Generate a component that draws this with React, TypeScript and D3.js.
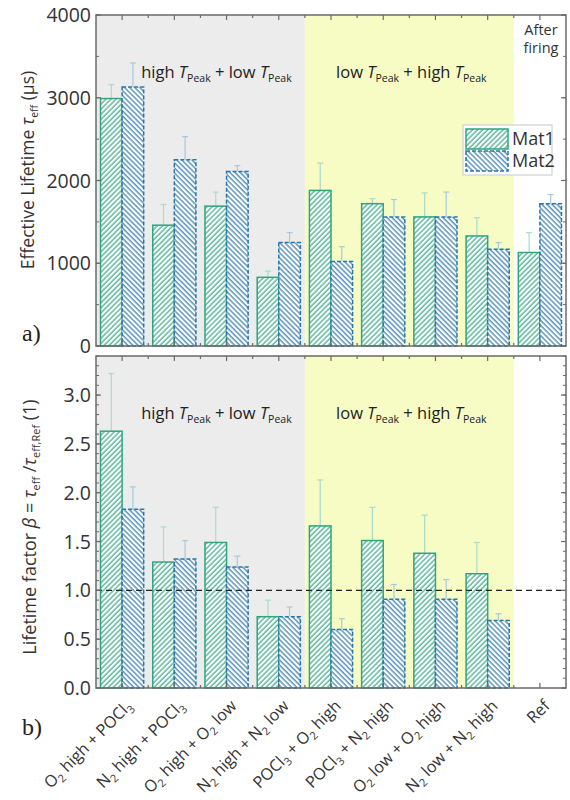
import React from "react";
import * as d3 from "d3";

const categories = [
  "O_2 high + POCl_3",
  "N_2 high + POCl_3",
  "O_2 high + O_2 low",
  "N_2 high + N_2 low",
  "POCl_3 + O_2 high",
  "POCl_3 + N_2 high",
  "O_2 low + O_2 high",
  "N_2 low + N_2 high",
  "Ref",
];
const seriesNames = ["Mat1", "Mat2"];

// Panel a) effective lifetime (µs)
const mat1Tau = [2990, 1460, 1690, 830, 1880, 1720, 1560, 1330, 1130];
const mat1TauErr = [170, 250, 170, 75, 330, 60, 290, 220, 240];
const mat2Tau = [3130, 2250, 2110, 1250, 1020, 1560, 1560, 1170, 1720];
const mat2TauErr = [290, 280, 70, 120, 180, 210, 300, 80, 110];

// Panel b) lifetime factor
const mat1Beta = [2.63, 1.29, 1.49, 0.73, 1.66, 1.51, 1.38, 1.17, null];
const mat1BetaErr = [0.59, 0.36, 0.36, 0.17, 0.47, 0.34, 0.39, 0.32, null];
const mat2Beta = [1.83, 1.32, 1.24, 0.73, 0.6, 0.91, 0.91, 0.69, null];
const mat2BetaErr = [0.23, 0.19, 0.11, 0.1, 0.11, 0.15, 0.2, 0.07, null];

const tauTicks = [0, 1000, 2000, 3000, 4000];
const betaTicks = [0, 0.5, 1.0, 1.5, 2.0, 2.5, 3.0];

const FONT = "'Open Sans', 'Noto Sans', sans-serif";
const C1 = "#2ea57f";
const C2 = "#2b76a9";
const E1 = "#a9dcc8";
const E2 = "#a6c9df";
const FRAME = "#6a6a6a";
const GRAY_BG = "#ececec";
const YELLOW_BG = "#f6fcc3";

const LEFT = 96;
const RIGHT = 566;

type Seg = { t: string; sub: boolean };
function parseSub(s: string): Seg[] {
  const out: Seg[] = [];
  const re = /_(\S)/g;
  let last = 0;
  let m: RegExpExecArray | null;
  while ((m = re.exec(s))) {
    if (m.index > last) out.push({ t: s.slice(last, m.index), sub: false });
    out.push({ t: m[1], sub: true });
    last = m.index + m[0].length;
  }
  if (last < s.length) out.push({ t: s.slice(last), sub: false });
  return out;
}

function RegionLabel({ x, y, first, second }: { x: number; y: number; first: string; second: string }) {
  return (
    <text x={x} y={y} textAnchor="middle" fontFamily={FONT} fontSize={16.5} fill="#222">
      <tspan>{first} </tspan>
      <tspan fontStyle="italic">T</tspan>
      <tspan fontSize={10.5} baselineShift="-4">Peak</tspan>
      <tspan> + {second} </tspan>
      <tspan fontStyle="italic">T</tspan>
      <tspan fontSize={10.5} baselineShift="-4">Peak</tspan>
    </text>
  );
}

export default function App() {
  const x = d3.scaleBand<number>().domain(d3.range(categories.length)).range([LEFT, RIGHT]).padding(0);
  const inner = d3.scaleBand<number>().domain([0, 1]).range([0, x.bandwidth()]).paddingInner(0).paddingOuter(0.21);
  const bw = inner.bandwidth();

  const panels = [
    {
      top: 15,
      bottom: 346,
      y: d3.scaleLinear().domain([0, 4000]).range([346, 15]),
      ticks: tauTicks,
      minor: d3.range(0, 4001, 500),
      fmt: (v: number) => d3.format("d")(v),
      s1: mat1Tau,
      e1: mat1TauErr,
      s2: mat2Tau,
      e2: mat2TauErr,
      showBottomLabels: false,
    },
    {
      top: 356,
      bottom: 688,
      y: d3.scaleLinear().domain([0, 3.4]).range([688, 356]),
      ticks: betaTicks,
      minor: d3.range(0, 34.01, 1).map((v) => v / 10),
      fmt: (v: number) => d3.format(".1f")(v),
      s1: mat1Beta,
      e1: mat1BetaErr,
      s2: mat2Beta,
      e2: mat2BetaErr,
      showBottomLabels: true,
    },
  ];

  const grayEnd = x(4)!;
  const yellowEnd = x(8)!;

  return (
    <svg width={570} height={800} style={{ position: "absolute", left: 0, top: 0, background: "#fff" }}>
      <defs>
        <pattern id="h1" patternUnits="userSpaceOnUse" width={3.6} height={3.6} patternTransform="rotate(45)">
          <rect width={3.6} height={3.6} fill="#fff" />
          <line x1={1} y1={0} x2={1} y2={3.6} stroke={C1} strokeWidth={1.15} />
        </pattern>
        <pattern id="h2" patternUnits="userSpaceOnUse" width={3.6} height={3.6} patternTransform="rotate(-45)">
          <rect width={3.6} height={3.6} fill="#fff" />
          <line x1={1} y1={0} x2={1} y2={3.6} stroke={C2} strokeWidth={1.15} />
        </pattern>
      </defs>

      {panels.map((p, pi) => {
        const y = p.y;
        const bars = [
          { vals: p.s1, errs: p.e1, fill: "url(#h1)", stroke: C1, dash: undefined, ecol: E1, idx: 0 },
          { vals: p.s2, errs: p.e2, fill: "url(#h2)", stroke: C2, dash: "4,2", ecol: E2, idx: 1 },
        ];
        return (
          <g key={pi}>
            <rect x={LEFT} y={p.top} width={grayEnd - LEFT} height={p.bottom - p.top} fill={GRAY_BG} />
            <rect x={grayEnd} y={p.top} width={yellowEnd - grayEnd} height={p.bottom - p.top} fill={YELLOW_BG} />

            {/* region labels */}
            <RegionLabel x={(LEFT + grayEnd) / 2 + 16} y={p.top + (pi === 0 ? 63 : 63)} first="high" second="low" />
            <RegionLabel x={(grayEnd + yellowEnd) / 2 + 2} y={p.top + (pi === 0 ? 63 : 63)} first="low" second="high" />

            {bars.map((b) =>
              b.vals.map((v, i) => {
                if (v == null) return null;
                const bx = x(i)! + inner(b.idx)!;
                const cx = bx + bw / 2;
                const e = b.errs[i] as number;
                return (
                  <g key={`${b.idx}-${i}`}>
                    <line x1={cx} x2={cx} y1={y(v)} y2={y(v + e)} stroke={b.ecol} strokeWidth={1.2} />
                    <line x1={cx - 3} x2={cx + 3} y1={y(v + e)} y2={y(v + e)} stroke={b.ecol} strokeWidth={1.2} />
                    <rect
                      x={bx}
                      y={y(v)}
                      width={bw}
                      height={y(0) - y(v)}
                      fill={b.fill}
                      stroke={b.stroke}
                      strokeWidth={1.5}
                      strokeDasharray={b.dash}
                    />
                  </g>
                );
              })
            )}

            {pi === 1 && (
              <line
                x1={LEFT}
                x2={RIGHT}
                y1={y(1)}
                y2={y(1)}
                stroke="#222"
                strokeWidth={1.3}
                strokeDasharray="6,4"
              />
            )}

            {/* frame */}
            <rect x={LEFT} y={p.top} width={RIGHT - LEFT} height={p.bottom - p.top} fill="none" stroke={FRAME} strokeWidth={1.5} />

            {/* x ticks */}
            {categories.map((_, i) => {
              const c = x(i)! + x.bandwidth() / 2;
              const b = x(i)!;
              return (
                <g key={`xt${i}`} stroke={FRAME} strokeWidth={1.2}>
                  <line x1={c} x2={c} y1={p.bottom} y2={p.bottom - 5} />
                  <line x1={c} x2={c} y1={p.top} y2={p.top + 5} />
                  {i > 0 && <line x1={b} x2={b} y1={p.bottom} y2={p.bottom - 3} />}
                  {i > 0 && <line x1={b} x2={b} y1={p.top} y2={p.top + 3} />}
                </g>
              );
            })}

            {/* y ticks */}
            {p.minor.map((v, i) => (
              <g key={`ym${i}`} stroke={FRAME} strokeWidth={1}>
                <line x1={LEFT} x2={LEFT + 3} y1={y(v)} y2={y(v)} />
                <line x1={RIGHT} x2={RIGHT - 3} y1={y(v)} y2={y(v)} />
              </g>
            ))}
            {p.ticks.map((v, i) => (
              <g key={`yt${i}`}>
                <line x1={LEFT} x2={LEFT + 5} y1={y(v)} y2={y(v)} stroke={FRAME} strokeWidth={1.2} />
                <line x1={RIGHT} x2={RIGHT - 5} y1={y(v)} y2={y(v)} stroke={FRAME} strokeWidth={1.2} />
                <text
                  x={LEFT - 5}
                  y={y(v)}
                  dy="0.36em"
                  textAnchor="end"
                  fontFamily={FONT}
                  fontSize={19.5}
                  fill="#333"
                >
                  {p.fmt(v)}
                </text>
              </g>
            ))}

            {p.showBottomLabels &&
              categories.map((c, i) => {
                const cx = x(i)! + x.bandwidth() / 2;
                const segs = parseSub(c);
                return (
                  <g key={`xl${i}`} transform={`translate(${cx + 11},${p.bottom + 19}) rotate(-45)`}>
                    <text x={0} y={0} textAnchor="end" fontFamily={FONT} fontSize={16.2} fill="#333">
                      {segs.map((s, k) =>
                        s.sub ? (
                          <tspan key={k} fontSize={11} baselineShift="-4">
                            {s.t}
                          </tspan>
                        ) : (
                          <tspan key={k}>{s.t}</tspan>
                        )
                      )}
                    </text>
                  </g>
                );
              })}
          </g>
        );
      })}

      {/* After firing */}
      <text x={541} y={35} textAnchor="middle" fontFamily={FONT} fontSize={14.5} fill="#333">
        After
      </text>
      <text x={541} y={53} textAnchor="middle" fontFamily={FONT} fontSize={14.5} fill="#333">
        firing
      </text>

      {/* legend */}
      <g>
        <rect x={463} y={125} width={89} height={50} fill="#fff" stroke="#c8c8c8" strokeWidth={1} />
        {seriesNames.map((n, i) => (
          <g key={n}>
            <rect
              x={466}
              y={129 + i * 22}
              width={42}
              height={20}
              fill={i === 0 ? "url(#h1)" : "url(#h2)"}
              stroke={i === 0 ? C1 : C2}
              strokeWidth={1.5}
              strokeDasharray={i === 0 ? undefined : "4,2"}
            />
            <text x={512} y={139 + i * 22} dy="0.36em" fontFamily={FONT} fontSize={18} fill="#333">
              {n}
            </text>
          </g>
        ))}
      </g>

      {/* y titles */}
      <g transform="translate(34,170) rotate(-90)">
        <text x={0} y={0} textAnchor="middle" fontFamily={FONT} fontSize={17.5} fill="#333">
          <tspan>Effective Lifetime </tspan>
          <tspan fontStyle="italic">τ</tspan>
          <tspan fontSize={10.5} baselineShift="-4">eff</tspan>
          <tspan> (μs)</tspan>
        </text>
      </g>
      <g transform="translate(36,527) rotate(-90)">
        <text x={0} y={0} textAnchor="middle" fontFamily={FONT} fontSize={18} fill="#333">
          <tspan>Lifetime factor </tspan>
          <tspan fontStyle="italic">β</tspan>
          <tspan> = </tspan>
          <tspan fontStyle="italic">τ</tspan>
          <tspan fontSize={11} baselineShift="-4">eff</tspan>
          <tspan> /</tspan>
          <tspan fontStyle="italic">τ</tspan>
          <tspan fontSize={11} baselineShift="-4">eff,Ref</tspan>
          <tspan> (1)</tspan>
        </text>
      </g>

      {/* panel labels */}
      <text x={22} y={341} fontFamily="'Liberation Serif', 'DejaVu Serif', serif" fontSize={24} fill="#222">
        a)
      </text>
      <text x={22} y={735} fontFamily="'Liberation Serif', 'DejaVu Serif', serif" fontSize={24} fill="#222">
        b)
      </text>
    </svg>
  );
}
